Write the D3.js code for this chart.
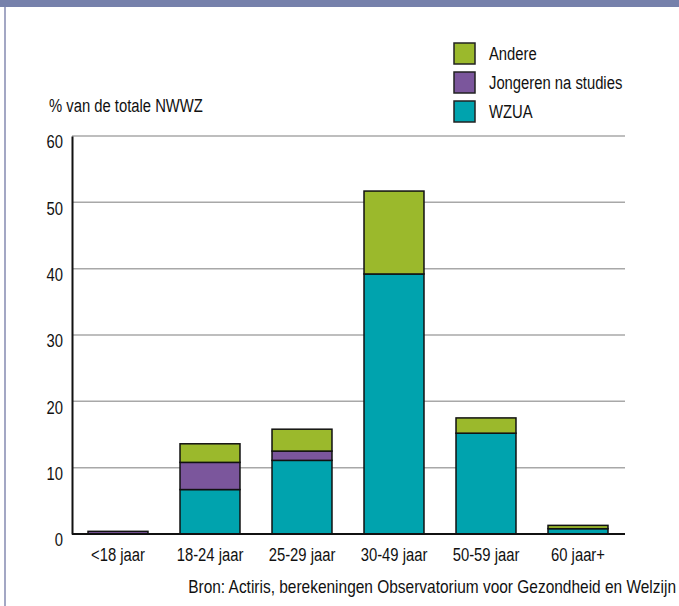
<!DOCTYPE html>
<html>
<head>
<meta charset="utf-8">
<script src="https://cdn.jsdelivr.net/npm/d3@7"></script>
<style>
  body { margin: 0; background: #fff; }
  svg text { font-family: "Liberation Sans", Arial, sans-serif; fill: #111; }
</style>
</head>
<body>
<div id="chart"></div>
<script>
// Data
const categories = ['<18 jaar', '18-24 jaar', '25-29 jaar', '30-49 jaar', '50-59 jaar', '60 jaar+'];
const wzua = [0, 6.7, 11.1, 39.2, 15.2, 0.8];
const jongeren = [0.4, 4.1, 1.4, 0, 0, 0];
const andere = [0, 2.8, 3.3, 12.5, 2.3, 0.5];
const yTicks = [0, 10, 20, 30, 40, 50, 60];
const seriesNames = ['WZUA', 'Jongeren na studies', 'Andere'];
const colors = ['#00a3ae', '#7b569c', '#9bb92c'];

const width = 679, height = 606;

// squeeze text horizontally around its own x anchor (condensed look)
function narrow(sel, k) {
  sel.each(function () {
    const t = d3.select(this);
    const ax = +t.attr('x') || 0;
    t.attr('transform', `translate(${ax},0) scale(${k},1) translate(${-ax},0)`);
  });
}

const svg = d3.select('#chart')
  .append('svg')
  .attr('width', width)
  .attr('height', height);

// frame: top band and left rule
svg.append('rect').attr('x', 0).attr('y', 0).attr('width', width).attr('height', 7).attr('fill', '#7681ab');
svg.append('rect').attr('x', 4).attr('y', 7).attr('width', 2).attr('height', height - 7).attr('fill', '#a3a7c4');

// scales
const x = d3.scaleBand()
  .domain(categories)
  .range([72, 624])
  .paddingInner(0.348)
  .paddingOuter(0.174);

const y = d3.scaleLinear()
  .domain([0, 60])
  .range([534, 136]);

// gridlines
svg.append('g')
  .selectAll('line')
  .data(yTicks.filter(d => d > 0))
  .join('line')
  .attr('x1', 72)
  .attr('x2', 625)
  .attr('y1', d => y(d))
  .attr('y2', d => y(d))
  .attr('stroke', '#a8a8a8')
  .attr('stroke-width', 1.5);

// stacked data
const table = categories.map((c, i) => ({ cat: c, WZUA: wzua[i], 'Jongeren na studies': jongeren[i], Andere: andere[i] }));
const stacked = d3.stack().keys(seriesNames)(table);

svg.append('g')
  .selectAll('g')
  .data(stacked)
  .join('g')
  .attr('fill', (d, i) => colors[i])
  .selectAll('rect')
  .data(d => d.filter(p => p[1] - p[0] > 0))
  .join('rect')
  .attr('x', d => x(d.data.cat))
  .attr('width', x.bandwidth())
  .attr('y', d => y(d[1]))
  .attr('height', d => y(d[0]) - y(d[1]))
  .attr('stroke', '#111')
  .attr('stroke-width', 1.5);

// y axis
const yAxis = svg.append('g')
  .attr('transform', 'translate(72,0)')
  .call(d3.axisLeft(y).tickValues(yTicks).tickSize(0).tickPadding(9));
yAxis.select('.domain').attr('stroke', '#111').attr('stroke-width', 2);
yAxis.selectAll('text')
  .attr('x', -9)
  .attr('dy', '0.62em')
  .style('font-size', '19px')
  .attr('fill', '#111')
  .call(narrow, 0.78);

// x axis
const xAxis = svg.append('g')
  .attr('transform', `translate(0,${y(0)})`)
  .call(d3.axisBottom(x).tickSize(0).tickPadding(10));
xAxis.select('.domain').attr('d', 'M72,0H625').attr('stroke', '#111').attr('stroke-width', 2);
xAxis.selectAll('text')
  .attr('dy', '0.9em')
  .style('font-size', '19px')
  .attr('fill', '#111')
  .call(narrow, 0.78);

// y title
svg.append('text')
  .attr('x', 49)
  .attr('y', 112)
  .style('font-size', '19px')
  .text('% van de totale NWWZ')
  .call(narrow, 0.78);

// legend (top to bottom: Andere, Jongeren, WZUA)
const legendItems = seriesNames.map((n, i) => ({ name: n, color: colors[i] })).reverse();
const legend = svg.append('g')
  .selectAll('g')
  .data(legendItems)
  .join('g')
  .attr('transform', (d, i) => `translate(454,${43 + i * 29})`);
legend.append('rect')
  .attr('width', 21)
  .attr('height', 21)
  .attr('fill', d => d.color)
  .attr('stroke', '#222')
  .attr('stroke-width', 1.5);
legend.append('text')
  .attr('x', 35)
  .attr('y', 17)
  .style('font-size', '19px')
  .text(d => d.name)
  .call(narrow, 0.78);

// source
svg.append('text')
  .attr('x', 676)
  .attr('y', 593)
  .attr('text-anchor', 'end')
  .style('font-size', '18px')
  .text('Bron: Actiris, berekeningen Observatorium voor Gezondheid en Welzijn')
  .call(narrow, 0.86);
</script>
</body>
</html>
